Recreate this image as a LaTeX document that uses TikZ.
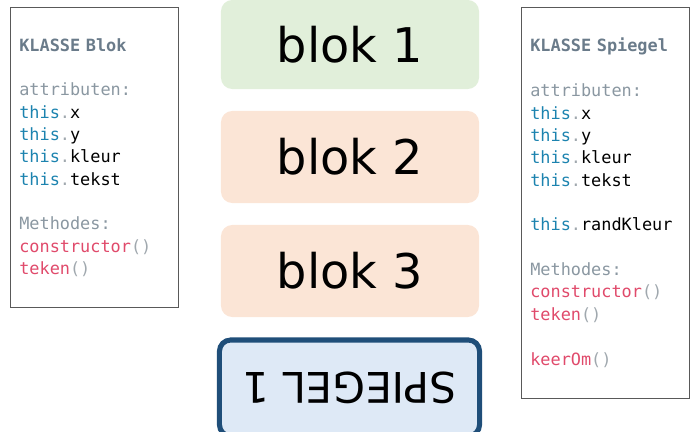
\documentclass[tikz,border=0pt]{standalone}
\usepackage{fontspec}
\usepackage{xcolor}
\usepackage{tikz}
\usetikzlibrary{positioning}

\newfontfamily\codefont{DejaVu Sans Mono}
\newfontfamily\handfont{DejaVu Sans}

\definecolor{klassegray}{HTML}{6A7B8A}
\definecolor{labelgray}{HTML}{8A97A1}
\definecolor{thisblue}{HTML}{1C83AF}
\definecolor{methred}{HTML}{E04A6B}
\definecolor{dotgray}{HTML}{A0A8AE}
\definecolor{blokgreen}{HTML}{E1EFDA}
\definecolor{blokorange}{HTML}{FBE5D6}
\definecolor{spiegelfill}{HTML}{DEE9F6}
\definecolor{spiegelrand}{HTML}{1F4E79}

\newcommand{\attr}[1]{\textcolor{thisblue}{this}\textcolor{dotgray}{.}#1}
\newcommand{\meth}[1]{\textcolor{methred}{#1}\textcolor{dotgray}{()}}

\begin{document}
\begin{tikzpicture}[x=0.025cm, y=-0.025cm,
  klasse/.style={draw=black!65, line width=0.9pt, anchor=north west, minimum width=4.2cm},
  code/.style={anchor=north west, inner sep=0pt, text width=4cm, align=left,
               font=\codefont\fontsize{12}{15.9}\selectfont},
  blok/.style={rounded corners=8pt, minimum width=6.45cm, minimum height=2.3cm,
               font=\handfont\fontsize{34}{40}\selectfont},
]
  \useasboundingbox (0,0) rectangle (692,432);

  % klasse Blok
  \node[klasse, minimum height=7.5cm] (blokKlasse) at (10,7) {};
  \node[code] (blokCode) at (19,38) {%
    \textcolor{klassegray}{\textbf{KLASSE Blok}}\\[\baselineskip]
    \textcolor{labelgray}{attributen:}\\
    \attr{x}\\
    \attr{y}\\
    \attr{kleur}\\
    \attr{tekst}\\[\baselineskip]
    \textcolor{labelgray}{Methodes:}\\
    \meth{constructor}\\
    \meth{teken}};

  % klasse Spiegel
  \node[klasse, minimum height=9.775cm] (spiegelKlasse) at (521,7) {};
  \node[code] (spiegelCode) at (530,38) {%
    \textcolor{klassegray}{\textbf{KLASSE Spiegel}}\\[\baselineskip]
    \textcolor{labelgray}{attributen:}\\
    \attr{x}\\
    \attr{y}\\
    \attr{kleur}\\
    \attr{tekst}\\[\baselineskip]
    \attr{randKleur}\\[\baselineskip]
    \textcolor{labelgray}{Methodes:}\\
    \meth{constructor}\\
    \meth{teken}\\[\baselineskip]
    \meth{keerOm}};

  % blokken in het midden
  \node[blok, fill=blokgreen, minimum height=2.225cm] (blok1) at (350,44.5) {blok 1};
  \node[blok, fill=blokorange] (blok2) at (350,157) {blok 2};
  \node[blok, fill=blokorange] (blok3) at (350,271) {blok 3};
  \node[blok, fill=spiegelfill, draw=spiegelrand, line width=3.6pt, minimum width=6.5cm,
        minimum height=2.4cm, font=\handfont\fontsize{30}{36}\selectfont]
       (spiegel1) at (349.5,388) {\rotatebox{180}{SPIEGEL 1}};
\end{tikzpicture}
\end{document}
